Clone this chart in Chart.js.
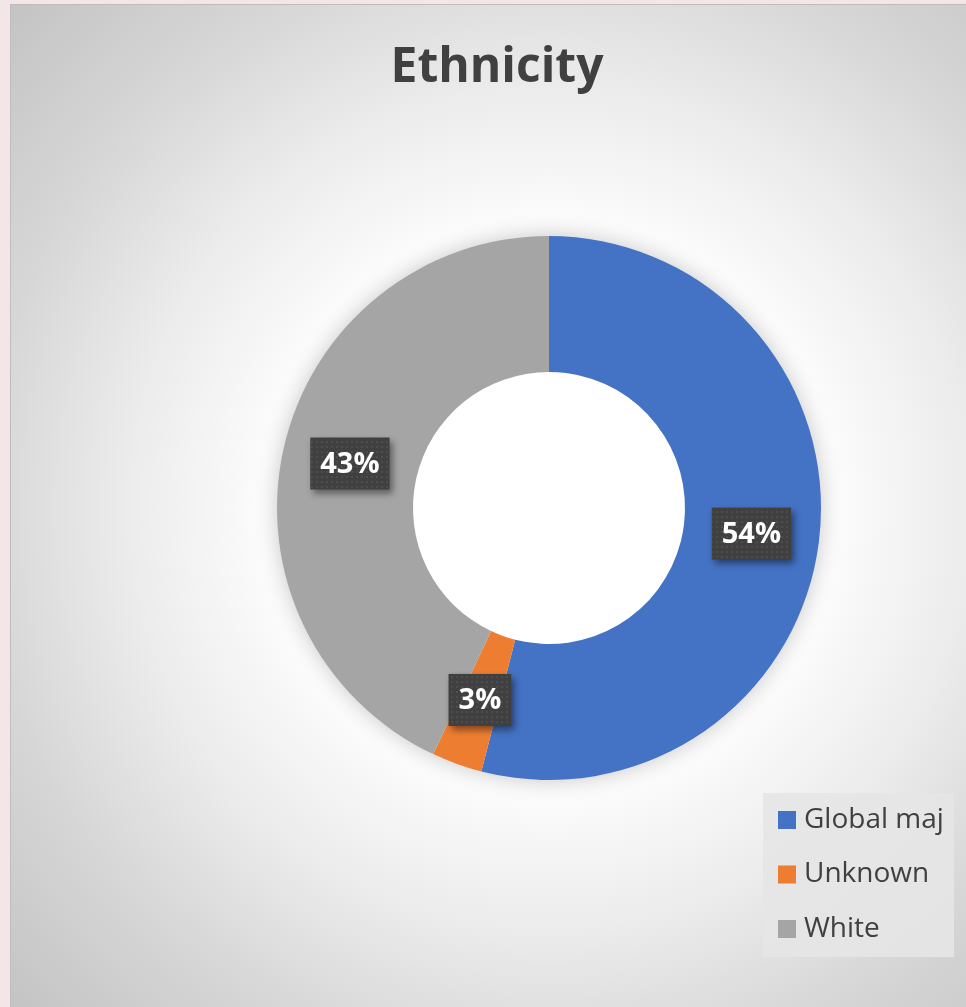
<!DOCTYPE html>
<html>
<head>
<meta charset="utf-8">
<script src="https://cdn.jsdelivr.net/npm/chart.js@4.4.1/dist/chart.umd.min.js"></script>
<style>
  html, body { margin: 0; padding: 0; background: #f2e6e6; overflow: hidden; }
  #wrap {
    position: absolute; left: 10px; top: 4px; width: 970px; height: 1010px;
    background: radial-gradient(circle at 539px 504px, #ffffff 0px, #fbfbfb 290px, #ececec 420px, #d6d6d6 570px, #c2c2c2 750px);
    box-shadow: inset 1px 1px 0 #bdbdbd;
  }
  canvas { position: absolute; left: -10px; top: -4px; }
</style>
</head>
<body>
<div id="wrap"><canvas id="myChart" width="966" height="1007"></canvas></div>
<script>
// chart data
const labels = ['Global maj', 'Unknown', 'White'];
const values = [54, 3, 43];
const colors = ['#4472C4', '#ED7D31', '#A5A5A5'];
const title = 'Ethnicity';

// dotted fill for the label boxes
function dotPattern(ctx) {
  let c = document.createElement('canvas');
  c.width = 5; c.height = 5;
  let p = c.getContext('2d');
  p.fillStyle = '#404040';
  p.fillRect(0, 0, 5, 5);
  p.fillStyle = '#4d4d4d';
  p.fillRect(1, 1, 2, 2);
  return ctx.createPattern(c, 'repeat');
}

const extras = {
  id: 'extras',
  beforeDatasetsDraw(chart) {
    // soft shadow round the ring
    const ctx = chart.ctx;
    const arc = chart.getDatasetMeta(0).data[0];
    ctx.save();
    ctx.shadowColor = 'rgba(0,0,0,0.22)';
    ctx.shadowBlur = 22;
    ctx.fillStyle = '#ffffff';
    ctx.beginPath();
    ctx.arc(arc.x, arc.y, arc.outerRadius - 1, 0, Math.PI * 2);
    ctx.fill();
    ctx.restore();
  },
  afterDatasetsDraw(chart) {
    const ctx = chart.ctx;
    const meta = chart.getDatasetMeta(0);
    const total = values.reduce((a, b) => a + b, 0);
    const pat = dotPattern(ctx);
    ctx.save();
    ctx.font = 'bold 29px "Open Sans"';
    ctx.textAlign = 'center';
    ctx.textBaseline = 'middle';
    meta.data.forEach((el, i) => {
      const pt = el.getCenterPoint();
      const txt = Math.round(values[i] / total * 100) + '%';
      const w = ctx.measureText(txt).width + 20;
      const h = 52;
      ctx.save();
      ctx.shadowColor = 'rgba(0,0,0,0.45)';
      ctx.shadowBlur = 7;
      ctx.shadowOffsetX = 3;
      ctx.shadowOffsetY = 4;
      ctx.fillStyle = pat;
      ctx.fillRect(pt.x - w / 2, pt.y - h / 2, w, h);
      ctx.restore();
      ctx.fillStyle = '#ffffff';
      ctx.fillText(txt, pt.x, pt.y + 1);
    });
    ctx.restore();
  },
  afterDraw(chart) {
    const ctx = chart.ctx;
    ctx.save();
    // title
    ctx.fillStyle = '#404040';
    ctx.font = 'bold 48px "Open Sans"';
    ctx.textAlign = 'center';
    ctx.textBaseline = 'alphabetic';
    ctx.fillText(title, 497, 82);
    // legend
    ctx.fillStyle = 'rgba(230,230,230,0.9)';
    ctx.fillRect(763, 793, 191, 164);
    ctx.font = '28px "Open Sans"';
    ctx.textAlign = 'left';
    ctx.textBaseline = 'middle';
    labels.forEach((lab, i) => {
      const y = 820 + i * 54.5;
      ctx.fillStyle = colors[i];
      ctx.fillRect(778, y - 9, 18, 18);
      ctx.fillStyle = '#404040';
      ctx.fillText(lab, 804, y);
    });
    ctx.restore();
  }
};

new Chart(document.getElementById('myChart'), {
  type: 'doughnut',
  data: {
    labels: labels,
    datasets: [{
      data: values,
      backgroundColor: colors,
      borderWidth: 0
    }]
  },
  options: {
    responsive: false,
    animation: false,
    cutout: '50%',
    layout: { padding: { left: 277, right: 145, top: 236, bottom: 227 } },
    plugins: {
      legend: { display: false },
      tooltip: { enabled: false }
    }
  },
  plugins: [extras]
});
</script>
</body>
</html>
